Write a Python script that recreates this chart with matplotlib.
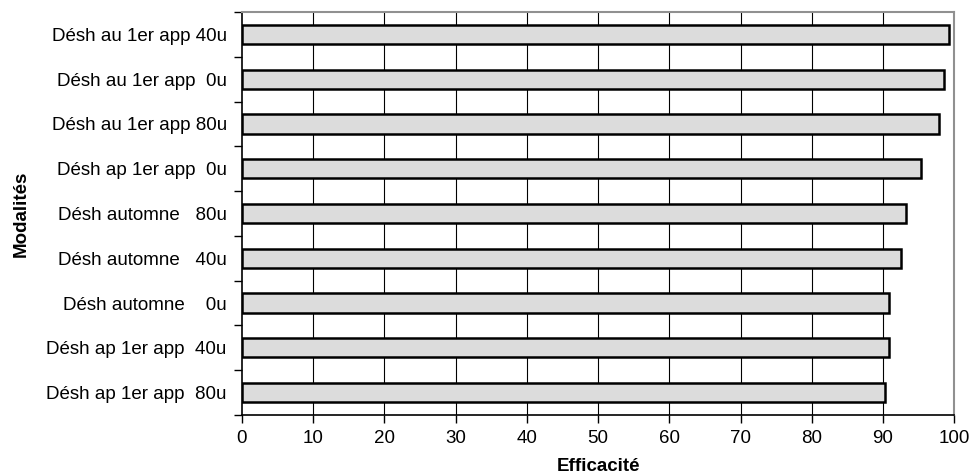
import numpy as np
import matplotlib.pyplot as plt

plt.rcParams['font.family'] = ['Liberation Sans', 'DejaVu Sans']

# data (top to bottom)
labels = ['Désh au 1er app 40u', 'Désh au 1er app  0u', 'Désh au 1er app 80u',
          'Désh ap 1er app  0u', 'Désh automne   80u', 'Désh automne   40u',
          'Désh automne    0u', 'Désh ap 1er app  40u', 'Désh ap 1er app  80u']
values = [99.3, 98.6, 97.8, 95.4, 93.3, 92.5, 90.8, 90.8, 90.3]
xticks = np.arange(0, 101, 10)

fig = plt.figure(figsize=(9.69, 4.75), dpi=100)
ax = fig.add_axes([0.2497, 0.1263, 0.735, 0.8484])

n = len(labels)
y = np.arange(n)[::-1]
ax.barh(y, values, height=0.43, color='#dcdcdc', edgecolor='black', linewidth=1.8, zorder=3)

ax.set_xlim(0, 100)
ax.set_ylim(-0.5, n - 0.5)
ax.set_xticks(xticks)
ax.set_xticklabels([str(t) for t in xticks], fontsize=13.5)
for t in xticks[1:-1]:
    ax.axvline(t, color='black', linewidth=0.8, zorder=1)

# y ticks sit on category boundaries, labels in between
ax.set_yticks(np.arange(-0.5, n, 1.0))
ax.set_yticklabels([])
ax.set_yticks(y, minor=True)
ax.set_yticklabels(labels, minor=True, fontsize=13.5)
ax.tick_params(axis='y', which='minor', length=0, pad=11)
ax.tick_params(axis='y', which='major', length=6, width=1, direction='out')
ax.tick_params(axis='x', length=6, width=1, direction='out', pad=5)

for s in ['left', 'bottom']:
    ax.spines[s].set_color('black')
    ax.spines[s].set_linewidth(1.2)
for s in ['top', 'right']:
    ax.spines[s].set_color('#909090')
    ax.spines[s].set_linewidth(1.5)

ax.set_xlabel('Efficacité', fontsize=13.5, fontweight='bold', labelpad=8)
ax.set_ylabel('Modalités', fontsize=13.5, fontweight='bold', labelpad=12)

plt.savefig('out.png', dpi=100)
